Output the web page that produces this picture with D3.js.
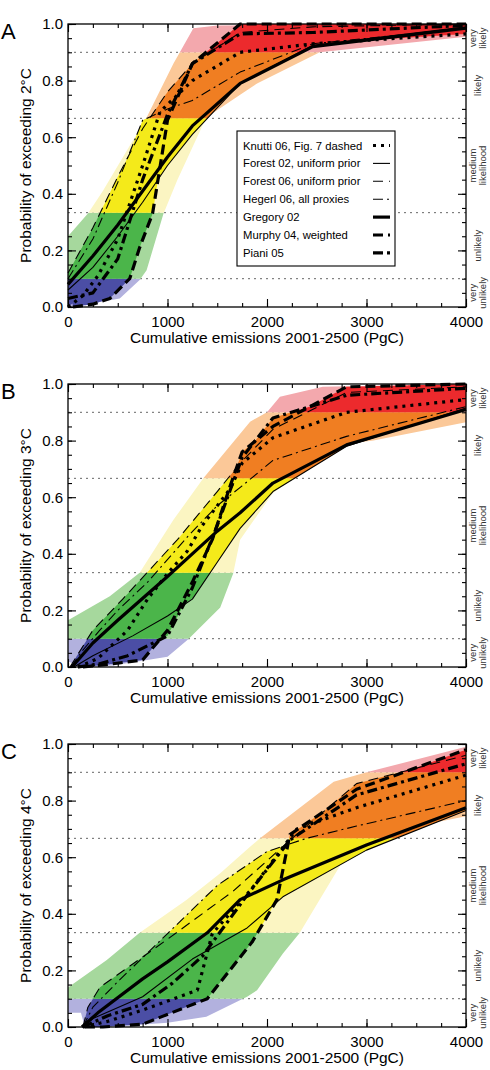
<!DOCTYPE html>
<html><head><meta charset="utf-8">
<script src="https://cdn.jsdelivr.net/npm/d3@7"></script>
<style>body{margin:0;background:#fff} text{font-family:"Liberation Sans",Arial,Helvetica,sans-serif}</style>
</head><body><svg id="c" width="490" height="1070"></svg>
<script>
// ---------- DATA ----------
const panelLabels = ["A", "B", "C"];
const thresholdLabels = ["2°C", "3°C", "4°C"];
const xTicks = [0, 1000, 2000, 3000, 4000];
const yTicks = [0, 0.2, 0.4, 0.6, 0.8, 1.0];
const likelihoodBreaks = [0, 0.1, 1/3, 2/3, 0.9, 1];
const likelihoodLabels = [["very", "unlikely"], ["unlikely"], ["medium", "likelihood"], ["likely"], ["very", "likely"]];
const categories = ["Knutti 06, Fig. 7 dashed", "Forest 02, uniform prior", "Forest 06, uniform prior",
  "Hegerl 06, all proxies", "Gregory 02", "Murphy 04, weighted", "Piani 05"];

// Panel A (2°C)
const knuttiA   = [[0,0.0],[150,0.04],[300,0.11],[500,0.24],[750,0.5],[925,0.69],[1250,0.8],[1730,0.9],[2460,0.93],[4000,0.965]];
const forest02A = [[0,0.06],[250,0.14],[500,0.25],[750,0.37],[1000,0.5],[1250,0.61],[1730,0.79],[2460,0.925],[4000,0.99]];
const forest06A = [[0,0.12],[250,0.28],[500,0.46],[750,0.63],[1000,0.76],[1250,0.86],[1730,0.97],[2460,0.99],[4000,1.0]];
const hegerlA   = [[0,0.1],[250,0.24],[500,0.44],[750,0.66],[1000,0.7],[1250,0.73],[1730,0.83],[2460,0.93],[4000,0.985]];
const gregoryA  = [[0,0.08],[250,0.18],[500,0.29],[750,0.41],[1000,0.53],[1250,0.64],[1730,0.79],[2460,0.92],[4000,0.985]];
const murphyA   = [[50,0],[250,0.01],[420,0.03],[620,0.1],[720,0.21],[850,0.33],[1000,0.66],[1250,0.86],[1730,1.0],[4000,1.0]];
const pianiA    = [[0,0.03],[250,0.05],[500,0.17],[750,0.45],[1000,0.68],[1250,0.86],[1730,0.965],[2460,0.97],[4000,0.995]];
const outerUpperA = [[0,0.25],[200,0.33],[350,0.41],[620,0.57],[790,0.67],[1060,0.86],[1260,0.985],[1500,0.995],[4000,1.0]];
const outerLowerA = [[0,0],[250,0.013],[520,0.03],[720,0.095],[790,0.13],[960,0.33],[1100,0.45],[1390,0.67],[1730,0.75],[1900,0.79],[2530,0.9],[4000,0.955]];

// Panel B (3°C)
const knuttiB   = [[100,0],[300,0.03],[600,0.13],[800,0.24],[1000,0.33],[1200,0.41],[1350,0.5],[1630,0.63],[1750,0.72],[2060,0.81],[2800,0.9],[4000,0.945]];
const forest02B = [[60,0],[250,0.04],[650,0.11],[1000,0.18],[1250,0.24],[1500,0.37],[1730,0.49],[2060,0.62],[2800,0.78],[4000,0.915]];
const forest06B = [[20,0],[250,0.13],[550,0.24],[1100,0.45],[1500,0.62],[1730,0.72],[2060,0.84],[2800,0.97],[4000,0.99]];
const hegerlB   = [[30,0],[150,0.06],[320,0.13],[500,0.2],[800,0.3],[1200,0.46],[1500,0.57],[1750,0.64],[2060,0.73],[2800,0.815],[4000,0.92]];
const gregoryB  = [[40,0],[250,0.085],[500,0.165],[1000,0.32],[1500,0.48],[1730,0.545],[2060,0.65],[2800,0.785],[4000,0.91]];
const murphyB   = [[150,0],[420,0.01],[750,0.025],[1000,0.13],[1250,0.3],[1450,0.45],[1630,0.64],[1750,0.76],[2060,0.85],[2800,0.99],[4000,1.0]];
const pianiB    = [[100,0],[300,0.01],[600,0.04],[1000,0.11],[1250,0.28],[1500,0.5],[1750,0.74],[2060,0.88],[2800,0.96],[4000,0.985]];
const outerUpperB = [[0,0.165],[420,0.25],[720,0.333],[1060,0.52],[1360,0.667],[1830,0.867],[2000,0.9],[2130,0.955],[2560,0.99],[4000,1.0]];
const outerLowerB = [[0,0.02],[120,0],[450,0.005],[1000,0.036],[1200,0.095],[1530,0.21],[1660,0.33],[1730,0.45],[2060,0.615],[2270,0.667],[2830,0.79],[3070,0.8],[4000,0.865]];

// Panel C (4°C)
const knuttiC   = [[150,0],[400,0.02],[750,0.06],[1300,0.13],[1450,0.33],[1850,0.49],[2300,0.7],[2900,0.775],[4000,0.89]];
const forest02C = [[150,0],[250,0.03],[750,0.107],[1250,0.24],[1800,0.35],[2160,0.46],[3000,0.625],[4000,0.765]];
const forest06C = [[150,0],[200,0.07],[320,0.14],[1000,0.31],[1660,0.48],[2230,0.66],[2900,0.86],[4000,0.96]];
const hegerlC   = [[150,0],[250,0.07],[500,0.16],[1000,0.33],[1500,0.5],[2000,0.62],[2400,0.667],[2900,0.71],[4000,0.8]];
const gregoryC  = [[140,0],[300,0.05],[750,0.17],[1000,0.23],[1400,0.333],[1730,0.45],[2160,0.52],[3000,0.643],[4000,0.775]];
const murphyC   = [[170,0],[350,0],[750,0.01],[1400,0.1],[1850,0.3],[2100,0.45],[2230,0.68],[2900,0.84],[4000,0.98]];
const pianiC    = [[150,0],[400,0.04],[750,0.08],[1050,0.155],[1350,0.25],[1830,0.48],[2230,0.66],[2900,0.82],[4000,0.93]];
const outerUpperC = [[0,0.14],[390,0.237],[720,0.333],[1190,0.449],[1530,0.543],[1830,0.637],[1930,0.667],[2670,0.867],[3000,0.9],[4000,0.99]];
const outerLowerC = [[0,0.05],[130,0.05],[170,0],[600,0.005],[1000,0.015],[1390,0.036],[1800,0.107],[1900,0.13],[2160,0.26],[2330,0.333],[2900,0.667],[4000,0.745]];

// ---------- STYLES ----------
const lightColors = ["#b2b1de", "#a6d89d", "#fbf5c2", "#fbc898", "#f3a8ad"];
const darkColors  = ["#4b4ea5", "#4bb54a", "#f4ea1a", "#f07e22", "#ec2a2d"];
const seriesStyle = [
  {w: 3.2, dash: "3,5"},        // Knutti dotted thick
  {w: 1.1, dash: null},         // Forest 02 thin solid
  {w: 1.1, dash: "10,6"},       // Forest 06 thin dashed
  {w: 1.1, dash: "10,4,2,4"},   // Hegerl thin dash-dot
  {w: 3.2, dash: null},         // Gregory thick solid
  {w: 3.2, dash: "10,5"},       // Murphy thick dashed
  {w: 3.2, dash: "10,4,3,4"}    // Piani thick dash-dot
];

const panels = [
  {series: [knuttiA, forest02A, forest06A, hegerlA, gregoryA, murphyA, pianiA], upper: outerUpperA, lower: outerLowerA},
  {series: [knuttiB, forest02B, forest06B, hegerlB, gregoryB, murphyB, pianiB], upper: outerUpperB, lower: outerLowerB},
  {series: [knuttiC, forest02C, forest06C, hegerlC, gregoryC, murphyC, pianiC], upper: outerUpperC, lower: outerLowerC}
];

// ---------- DRAW ----------
const svg = d3.select("#c");
const L = 68, R = 466, panelTop = 24, panelH = 283, panelStep = 360;
const x = d3.scaleLinear().domain([0, 4000]).range([L, R]);

function interp(pts, e) {
  if (e < pts[0][0] || e > pts[pts.length - 1][0]) return null;
  for (let i = 1; i < pts.length; i++) {
    if (e <= pts[i][0]) {
      const [x0, y0] = pts[i - 1], [x1, y1] = pts[i];
      if (x1 === x0) return y1;
      return y0 + (y1 - y0) * (e - x0) / (x1 - x0);
    }
  }
  return pts[pts.length - 1][1];
}

panels.forEach((p, pi) => {
  const top = panelTop + pi * panelStep;
  const y = d3.scaleLinear().domain([0, 1]).range([top + panelH, top]);
  const g = svg.append("g");

  [0.1, 1/3, 2/3, 0.9].forEach(v => {
    g.append("line").attr("x1", L).attr("x2", R).attr("y1", y(v)).attr("y2", y(v))
      .attr("stroke", "#666").attr("stroke-width", 1).attr("stroke-dasharray", "2,4");
  });

  const defs = g.append("defs");
  for (let b = 0; b < 5; b++) {
    defs.append("clipPath").attr("id", `clip${pi}_${b}`)
      .append("rect").attr("x", L).attr("width", R - L)
      .attr("y", y(likelihoodBreaks[b + 1])).attr("height", y(likelihoodBreaks[b]) - y(likelihoodBreaks[b + 1]));
  }

  const poly = p.upper.concat(p.lower.slice().reverse());
  const polyLine = d3.line().x(d => x(d[0])).y(d => y(d[1]));
  for (let b = 0; b < 5; b++) {
    g.append("path").attr("d", polyLine(poly) + "Z").attr("fill", lightColors[b])
      .attr("clip-path", `url(#clip${pi}_${b})`);
  }

  const grid = d3.range(0, 4001, 5);
  const env = grid.map(e => {
    const vals = p.series.map(s => interp(s, e)).filter(v => v !== null);
    return vals.length ? {e, lo: d3.min(vals), hi: d3.max(vals)} : {e, lo: null, hi: null};
  });
  const area = d3.area().defined(d => d.lo !== null)
    .x(d => x(d.e)).y0(d => y(d.lo)).y1(d => y(d.hi));
  for (let b = 0; b < 5; b++) {
    g.append("path").attr("d", area(env)).attr("fill", darkColors[b])
      .attr("clip-path", `url(#clip${pi}_${b})`);
  }

  const line = d3.line().x(d => x(d[0])).y(d => y(d[1]));
  p.series.forEach((s, si) => {
    g.append("path").attr("d", line(s)).attr("fill", "none").attr("stroke", "#000")
      .attr("stroke-width", seriesStyle[si].w)
      .attr("stroke-dasharray", seriesStyle[si].dash)
      .attr("stroke-linejoin", "round");
  });

  const minorY = d3.range(0, 1.0001, 0.05);
  const minorX = d3.range(0, 4001, 250);
  const axStyle = sel => { sel.select(".domain").remove(); sel.selectAll("line").attr("stroke", "#000").attr("stroke-width", 1.1); };
  g.append("g").attr("transform", `translate(${L},0)`)
    .call(d3.axisLeft(y).tickValues(minorY).tickSize(-4).tickFormat("")).call(axStyle);
  g.append("g").attr("transform", `translate(${L},0)`)
    .call(d3.axisLeft(y).tickValues(yTicks).tickSize(-8).tickPadding(5).tickFormat(d3.format(".1f"))).call(axStyle)
    .selectAll("text").attr("font-size", 15).attr("fill", "#000");
  g.append("g").attr("transform", `translate(${R},0)`)
    .call(d3.axisRight(y).tickValues(minorY).tickSize(-4).tickFormat("")).call(axStyle);
  g.append("g").attr("transform", `translate(${R},0)`)
    .call(d3.axisRight(y).tickValues(yTicks).tickSize(-8).tickFormat("")).call(axStyle);
  g.append("g").attr("transform", `translate(0,${top + panelH})`)
    .call(d3.axisBottom(x).tickValues(minorX).tickSize(-4).tickFormat("")).call(axStyle);
  g.append("g").attr("transform", `translate(0,${top + panelH})`)
    .call(d3.axisBottom(x).tickValues(xTicks).tickSize(-8).tickPadding(9).tickFormat(d3.format("d"))).call(axStyle)
    .selectAll("text").attr("font-size", 15).attr("fill", "#000");
  g.append("g").attr("transform", `translate(0,${top})`)
    .call(d3.axisTop(x).tickValues(minorX).tickSize(-4).tickFormat("")).call(axStyle);
  g.append("g").attr("transform", `translate(0,${top})`)
    .call(d3.axisTop(x).tickValues(xTicks).tickSize(-8).tickFormat("")).call(axStyle);

  g.append("rect").attr("x", L).attr("y", top).attr("width", R - L).attr("height", panelH)
    .attr("fill", "none").attr("stroke", "#000").attr("stroke-width", 1.3);

  g.append("text").attr("x", (L + R) / 2).attr("y", top + panelH + 36).attr("text-anchor", "middle")
    .attr("font-size", 15.5).text("Cumulative emissions 2001-2500 (PgC)");
  g.append("text").attr("transform", `translate(30.5,${top + panelH / 2}) rotate(-90)`).attr("text-anchor", "middle")
    .attr("font-size", 15.5).text(`Probability of exceeding ${thresholdLabels[pi]}`);
  g.append("text").attr("x", 1).attr("y", top + 15).attr("font-size", 22).text(panelLabels[pi]);

  likelihoodLabels.forEach((lines, li) => {
    const mid = (likelihoodBreaks[li] + likelihoodBreaks[li + 1]) / 2;
    const n = lines.length;
    lines.forEach((t, k) => {
      const cx = 478 + (k - (n - 1) / 2) * 10 + 3.3;
      g.append("text").attr("transform", `translate(${cx},${y(mid)}) rotate(-90)`)
        .attr("text-anchor", "middle").attr("font-size", 9.5).attr("fill", "#333").text(t);
    });
  });

  if (pi === 0) {
    const lx = 237, ly = 131, lw = 158, lh = 135;
    g.append("rect").attr("x", lx).attr("y", ly).attr("width", lw).attr("height", lh)
      .attr("fill", "#fff").attr("stroke", "#000").attr("stroke-width", 1.1);
    categories.forEach((c, ci) => {
      const yy = ly + 14.5 + ci * 17.9;
      g.append("text").attr("x", lx + 6).attr("y", yy + 4).attr("font-size", 11.3).text(c);
      g.append("line").attr("x1", lx + 136).attr("x2", lx + 153).attr("y1", yy).attr("y2", yy)
        .attr("stroke", "#000").attr("stroke-width", seriesStyle[ci].w)
        .attr("stroke-dasharray", seriesStyle[ci].dash);
    });
  }
});
</script></body></html>
